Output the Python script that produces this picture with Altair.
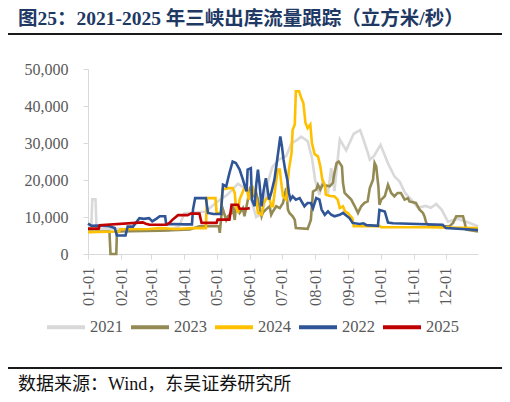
import altair as alt
import pandas as pd
from datetime import datetime, timedelta

TITLE = "图25：2021-2025 年三峡出库流量跟踪（立方米/秒）"
SOURCE = "数据来源：Wind，东吴证券研究所"

years = ["2021", "2023", "2024", "2022", "2025"]
colors = ["#D9D9D9", "#948A54", "#FFC000", "#2F5597", "#C00000"]

# day of year (0 = Jan 1) and outflow (m3/s)
d21 = [0, 3, 4, 7, 8, 30, 60, 75, 85, 90, 100, 110, 120, 130, 140, 150, 157, 163, 168, 172,
       178, 185, 190, 195, 199, 205, 209, 212, 216, 219, 224, 227, 230, 235, 241, 248, 254, 257, 261, 263,
       267, 273, 280, 286, 291, 296, 302, 308, 315, 320, 325, 330, 336, 345, 355, 364]
v21 = [6600, 6600, 14800, 14800, 6800, 6800, 6400, 6300, 7500, 11000, 11200, 11500, 14000, 16000, 19000, 17000, 10000, 11000, 19500, 23500,
       25500, 26500, 30000, 30800, 31700, 30500, 26000, 20000, 16000, 20000, 16500, 23200, 17000, 31000, 28000, 32500, 33500, 31000, 27500, 25500,
       26500, 29500, 24500, 21000, 19500, 16500, 14600, 12500, 13000, 12500, 13500, 12000, 8700, 9500, 8500, 7500]

d22 = [0, 3, 9, 20, 25, 27, 35, 37, 42, 48, 52, 57, 60, 64, 67, 72, 73, 80, 90, 97,
       98, 100, 110, 112, 117, 124, 126, 129, 132, 135, 138, 141.5, 144.6, 146, 148, 149, 152, 153, 155.5, 157,
       158.6, 160, 162, 164, 166, 169, 171, 174, 177, 179.5, 181, 182.5, 184, 186, 187.5, 189, 191, 194, 197.5, 202,
       205, 208, 210, 213, 216, 218, 221, 224, 227, 230, 235, 238, 244, 247, 253.5, 257, 260, 270.6, 272, 277,
       280, 284.6, 331, 334, 364]
v22 = [8200, 7650, 7700, 7500, 7000, 5000, 5000, 7400, 7400, 9700, 9500, 9700, 8800, 9550, 10200, 10200, 8000, 8100, 8000, 8000,
       12000, 15100, 15100, 11100, 10800, 10800, 18700, 18300, 21900, 25000, 24600, 22800, 20100, 18700, 16900, 22800, 23200, 14700, 12900, 18700,
       22800, 19200, 12900, 17400, 20500, 14700, 16500, 20100, 26400, 31800, 29100, 25500, 22800, 20100, 16500, 14700, 15600, 14700, 15100, 12900,
       13800, 13800, 12400, 15100, 14700, 12000, 10600, 11500, 10600, 10200, 10600, 11100, 9700, 8400, 8100, 8300, 7800, 7600, 11900, 11500,
       8500, 8300, 7900, 7000, 6500]

d23 = [0, 20, 21, 26.4, 27, 67, 95, 104, 122, 123, 124.4, 126, 129, 130.6, 134, 135, 137, 138, 141.5, 144.6,
       146, 148, 151, 154, 157, 160, 162, 163, 166, 169.5, 171, 172.6, 175.7, 179, 182, 185, 186.6, 188, 191, 193,
       194, 205, 208, 210, 213, 214.6, 216.8, 219, 225.5, 228.5, 230, 232, 234, 237, 238, 239.5, 242.6, 245.7, 249, 252,
       255, 258, 261, 263, 266, 267.5, 269, 271, 272, 273.7, 277, 280, 283, 286, 289, 292, 295.5, 298.6, 300, 306,
       309.5, 312.6, 314, 315.7, 319, 337.5, 340.7, 343.7, 350, 351.6, 353, 364]
v23 = [6100, 6100, 0, 0, 6100, 6300, 6600, 7500, 7500, 5700, 10200, 12000, 9200, 10200, 11100, 12900, 9200, 12900, 11100, 12400,
       10200, 12900, 17400, 15600, 16500, 12900, 10200, 11100, 12000, 12900, 10600, 11500, 12900, 12400, 13800, 17800, 12000, 11100, 10200, 9200,
       7000, 6800, 9200, 16900, 17400, 18700, 17400, 18700, 18300, 19200, 21900, 24600, 25000, 23700, 19200, 16500, 15600, 14700, 12900, 11100,
       12900, 13800, 14200, 17800, 20100, 24600, 23700, 18300, 13300, 14700, 15600, 18700, 16500, 15600, 16500, 16500, 14700, 15100, 14200, 13800,
       12000, 11100, 10200, 8400, 7500, 7500, 8400, 10200, 10200, 8400, 6600, 6100]

d24 = [0, 29, 30, 57, 67, 82, 98, 110, 111, 119, 120, 124, 125.5, 130.6, 135, 137, 138, 140, 141.5, 144,
       146, 148, 150, 152, 154, 157, 158.6, 162, 164, 166, 169, 171, 172.6, 175, 177, 179, 180, 182, 185, 187.5,
       190, 191, 193, 194, 197, 199, 201, 203, 205, 207.5, 209, 211.5, 214.6, 216.8, 218.7, 221, 222, 227, 230, 233,
       235, 238, 240, 242.6, 245, 246.7, 248, 272, 273.7, 315.7, 364]
v24 = [5900, 6100, 6700, 6750, 7000, 6750, 7000, 7000, 15100, 15100, 11100, 11100, 17400, 17800, 17800, 16500, 12900, 11100, 14700, 16500,
       17800, 18300, 14700, 16900, 17800, 14700, 11100, 10600, 13800, 14700, 15600, 12900, 12900, 18300, 22800, 22800, 20100, 15600, 14700, 22800,
       27300, 33600, 35000, 44000, 44000, 42200, 40800, 35400, 34000, 35000, 30000, 27000, 26400, 23700, 20100, 18700, 16000, 15600, 15600, 14700,
       12400, 12900, 11500, 11100, 10200, 9700, 7500, 7600, 7250, 7250, 7000]

d25 = [0, 10, 11, 51, 54, 57.5, 73, 76, 79, 84, 93, 96, 104, 106, 120, 121, 132, 134, 140, 141.5, 148, 151]
v25 = [6850, 6850, 7750, 8550, 8200, 7900, 7900, 8400, 9300, 10500, 10500, 10900, 10900, 8400, 8400, 9300, 9300, 13300, 13300, 12250, 12250, 12400]

base = datetime(2021, 1, 1)
rows = []
for name, ds, vs in [("2021", d21, v21), ("2023", d23, v23), ("2024", d24, v24), ("2022", d22, v22), ("2025", d25, v25)]:
    assert len(ds) == len(vs), name
    for d, v in zip(ds, vs):
        rows.append({"year": name, "date": (base + timedelta(days=d)).strftime("%Y-%m-%dT%H:%M:%S"), "flow": v})
df = pd.DataFrame(rows)

FONT = "Liberation Serif, Noto Sans CJK SC"
GREY = "#595959"
AXIS = "#D9D9D9"

x_enc = alt.X(
    "date:T",
    scale=alt.Scale(domain=[alt.DateTime(year=2021, month=1, date=1), alt.DateTime(year=2021, month=12, date=31)]),
    axis=alt.Axis(
        values=[alt.DateTime(year=2021, month=m, date=1) for m in range(1, 13)],
        format="%m-%d", labelAngle=270, title=None, grid=False,
        domainColor=AXIS, tickColor=AXIS, tickSize=5, labelPadding=8,
        labelFont=FONT, labelFontSize=16.5, labelColor=GREY,
        labelFlush=False, labelOverlap=False,
    ),
)
y_enc = alt.Y(
    "flow:Q",
    scale=alt.Scale(domain=[0, 50000], nice=False),
    axis=alt.Axis(
        values=list(range(0, 50001, 10000)), format=",d", title=None, grid=False,
        domainColor=AXIS, tickColor=AXIS, tickSize=5, labelPadding=15,
        labelFont=FONT, labelFontSize=16, labelColor=GREY,
    ),
)
color_enc = alt.Color(
    "year:N",
    scale=alt.Scale(domain=years, range=colors),
    legend=alt.Legend(
        orient="none", legendX=-43, legendY=237, direction="horizontal", title=None,
        symbolType="stroke", symbolSize=1444, symbolStrokeWidth=4,
        labelFont=FONT, labelFontSize=16.5, labelColor=GREY, labelOffset=3,
        columnPadding=0, padding=0,
    ),
)

layers = []
for yname in years:
    layers.append(
        alt.Chart(df).transform_filter(alt.datum.year == yname)
        .mark_line(strokeWidth=2.6)
        .encode(x=x_enc, y=y_enc, color=color_enc)
    )

title_t = alt.Chart(pd.DataFrame({"t": [TITLE]})).mark_text(
    align="left", baseline="alphabetic", fontSize=19.5, fontWeight="bold", font=FONT, color="#203864"
).encode(x=alt.value(-70), y=alt.value(-44), text="t:N")

source_t = alt.Chart(pd.DataFrame({"t": [SOURCE]})).mark_text(
    align="left", baseline="alphabetic", fontSize=18, font=FONT, color="#111111"
).encode(x=alt.value(-70), y=alt.value(321), text="t:N")

rule_top = alt.Chart(pd.DataFrame({"name": ["header"]})).mark_rule(
    color="#1a1a1a", strokeWidth=2, clip=False).encode(
    x=alt.value(-80), x2=alt.value(416), y=alt.value(-35))
rule_bot = alt.Chart(pd.DataFrame({"name": ["footer"]})).mark_rule(
    color="#1a1a1a", strokeWidth=2, clip=False).encode(
    x=alt.value(-80), x2=alt.value(416), y=alt.value(299))

chart = alt.layer(*layers, title_t, source_t, rule_top, rule_bot).properties(
    width=390, height=185,
    autosize=alt.AutoSizeParams(type="none"),
    padding={"left": 80, "top": 61, "right": 24, "bottom": 140},
).configure_view(stroke=None)

chart.save("out.html", embed_options={"renderer": "svg", "actions": False})
